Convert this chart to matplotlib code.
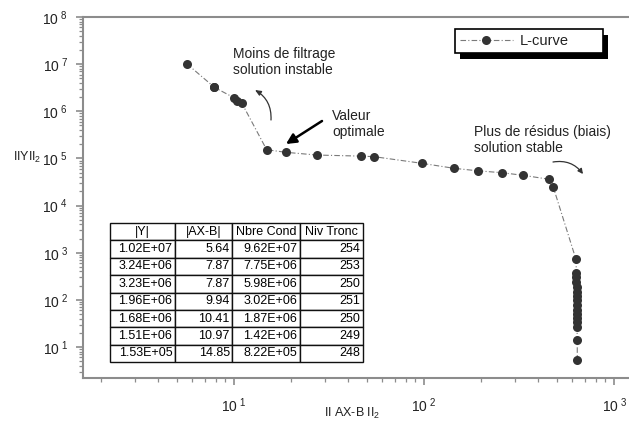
import matplotlib
matplotlib.use('Agg')
import matplotlib.pyplot as plt
from matplotlib.ticker import LogLocator, FuncFormatter, NullFormatter
from matplotlib.patches import Rectangle
from matplotlib.transforms import IdentityTransform

plt.rcParams['font.family'] = ['Liberation Sans', 'DejaVu Sans']
plt.rcParams['mathtext.fontset'] = 'custom'
plt.rcParams['mathtext.rm'] = 'Liberation Sans'
plt.rcParams['mathtext.it'] = 'Liberation Sans:italic'
plt.rcParams['mathtext.bf'] = 'Liberation Sans:bold'

# ---------------- data ----------------
table_headers = ['|Y|', '|AX-B|', 'Nbre Cond', 'Niv Tronc']
table_y = [1.02e7, 3.24e6, 3.23e6, 1.96e6, 1.68e6, 1.51e6, 1.53e5]
table_axb = [5.64, 7.87, 7.87, 9.94, 10.41, 10.97, 14.85]
table_cond = [9.62e7, 7.75e6, 5.98e6, 3.02e6, 1.87e6, 1.42e6, 8.22e5]
table_trunc = [254, 253, 250, 251, 250, 249, 248]

rest_axb = [18.7, 27.2, 46.4, 54.6, 97.3, 143.8, 192, 256.5, 333, 455, 479,
            630, 633, 634, 634, 635, 635, 636, 636, 636, 637, 637, 637, 638, 638, 640, 640]
rest_y = [1.35e5, 1.18e5, 1.12e5, 1.09e5, 7.88e4, 6.17e4, 5.46e4, 4.98e4, 4.38e4, 3.61e4, 2.44e4,
          724, 371, 305, 239, 187, 147, 121, 99.3, 77.7, 60.9, 50, 41.2, 33.9, 26.5, 14.1, 5.3]

curve_x = table_axb + rest_axb
curve_y = table_y + rest_y

W, H = 629, 425
fig = plt.figure(figsize=(W / 100, H / 100), dpi=100)


def fx(px):
    return px / W


def fy(py):
    return 1 - py / H


ax = fig.add_axes([fx(83), fy(378), (650 - 83) / W, (378 - 17) / H])
ax.set_xscale('log')
ax.set_yscale('log')
ax.set_xlim(1.604, 1545)
ax.set_ylim(2.2, 1e8)

line, = ax.plot(curve_x, curve_y, linestyle=(0, (5, 2, 1, 2)), color='#7a7a7a', lw=0.8,
                marker='o', markersize=6.5, markerfacecolor='#333333', markeredgewidth=0,
                label='L-curve', zorder=3)

spine_col = '#8c8c8c'
for s in ['top', 'left', 'bottom']:
    ax.spines[s].set_color(spine_col)
    ax.spines[s].set_linewidth(1.5)
ax.spines['right'].set_visible(False)

ax.xaxis.set_major_locator(LogLocator(base=10, numticks=20))
ax.yaxis.set_major_locator(LogLocator(base=10, numticks=20))
ax.xaxis.set_minor_locator(LogLocator(base=10, subs=range(2, 10), numticks=20))
ax.yaxis.set_minor_locator(LogLocator(base=10, subs=range(2, 10), numticks=20))
ax.xaxis.set_minor_formatter(NullFormatter())
ax.yaxis.set_minor_formatter(NullFormatter())
fmt = FuncFormatter(lambda v, p: r'10$^{\ %d}$' % round(__import__('math').log10(v)))
ax.xaxis.set_major_formatter(fmt)
ax.yaxis.set_major_formatter(fmt)
ax.tick_params(which='major', direction='out', length=5, width=1.2, color=spine_col,
               labelsize=10, labelcolor='#222222')
ax.tick_params(which='minor', direction='out', length=3, width=0.9, color=spine_col)
ax.tick_params(axis='x', which='major', pad=8)
ax.tick_params(axis='y', which='major', pad=6)

# axis labels
fig.text(fx(27), fy(157), 'IIYII$_2$', ha='center', va='center', fontsize=9, color='#222222')
fig.text(fx(352), fy(413), 'II AX-B II$_2$', ha='center', va='center', fontsize=9, color='#222222')

# table
def sci(v):
    return ('%.2E' % v)


cell_text = [[sci(a), '%.2f' % b, sci(c), '%d' % d]
             for a, b, c, d in zip(table_y, table_axb, table_cond, table_trunc)]
tb = ax.table(cellText=cell_text, colLabels=table_headers, cellLoc='right',
              colWidths=[65, 57, 68, 63],
              bbox=[(110 - 83) / 567, (378 - 362) / 361, 253 / 567, 139 / 361])
tb.auto_set_font_size(False)
tb.set_fontsize(9)
for (r, c), cell in tb.get_celld().items():
    cell.set_edgecolor('#111111')
    cell.set_linewidth(1.0)
    cell.PAD = 0.04
    if r == 0:
        cell.get_text().set_ha('center')
        cell._loc = 'center'

# annotations
ann_col = '#222222'
fig.text(fx(233), fy(62), 'Moins de filtrage\nsolution instable', ha='left', va='center',
         fontsize=10, color=ann_col, linespacing=1.15)
fig.text(fx(332), fy(124), 'Valeur\noptimale', ha='left', va='center',
         fontsize=10, color=ann_col, linespacing=1.15)
fig.text(fx(474), fy(140), 'Plus de résidus (biais)\nsolution stable', ha='left', va='center',
         fontsize=10, color=ann_col, linespacing=1.15)

ax.annotate('', xy=(fx(255), fy(90)), xycoords='figure fraction',
            xytext=(fx(271), fy(120)), textcoords='figure fraction',
            arrowprops=dict(arrowstyle='-|>,head_length=0.35,head_width=0.15', color='#333333',
                            lw=0.9, connectionstyle='arc3,rad=0.3', shrinkA=0, shrinkB=0))
ax.annotate('', xy=(fx(286), fy(144)), xycoords='figure fraction',
            xytext=(fx(322), fy(121)), textcoords='figure fraction',
            arrowprops=dict(arrowstyle='-|>,head_length=0.6,head_width=0.3', color='black',
                            lw=1.8, shrinkA=0, shrinkB=0))
ax.annotate('', xy=(fx(583), fy(174)), xycoords='figure fraction',
            xytext=(fx(553), fy(162)), textcoords='figure fraction',
            arrowprops=dict(arrowstyle='-|>,head_length=0.3,head_width=0.15', color='#333333',
                            lw=0.9, connectionstyle='arc3,rad=-0.3', shrinkA=0, shrinkB=0))

# legend
leg = ax.legend(handles=[line], loc='upper left', mode='expand',
                bbox_to_anchor=(fx(455), fy(56), (603 - 455) / W, 27 / H),
                bbox_transform=fig.transFigure, borderaxespad=0, borderpad=0.35,
                handlelength=3.6, handletextpad=0.5, fontsize=10.5,
                frameon=True, fancybox=False, framealpha=1, edgecolor='black')
leg.get_frame().set_linewidth(1.2)
for t in leg.get_texts():
    t.set_color('#222222')

fig.canvas.draw()
bb = leg.get_window_extent()
shadow = Rectangle((bb.x0 + 5, bb.y0 - 6), bb.width, bb.height, transform=IdentityTransform(),
                   facecolor='black', edgecolor='none', zorder=4.5, clip_on=False)
ax.add_patch(shadow)

fig.savefig('out.png', dpi=100)
